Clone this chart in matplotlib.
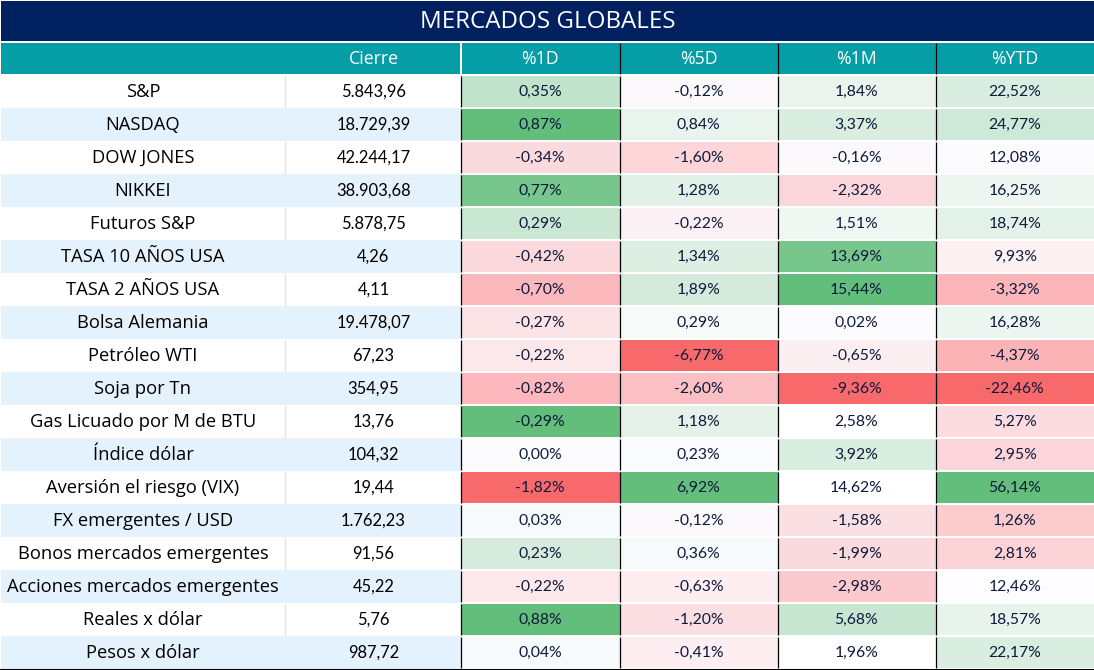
#!/usr/bin/env python3
"""Tabla de mercados globales con celdas coloreadas."""

import matplotlib
matplotlib.use("Agg")
import matplotlib.pyplot as plt
from matplotlib.patches import Rectangle

TITLE = "MERCADOS GLOBALES"
HEADERS = ["Cierre", "%1D", "%5D", "%1M", "%YTD"]

NAMES = [
    "S&P", "NASDAQ", "DOW JONES", "NIKKEI", "Futuros S&P", "TASA 10 AÑOS USA",
    "TASA 2 AÑOS USA", "Bolsa Alemania", "Petróleo WTI", "Soja por Tn",
    "Gas Licuado por M de BTU", "Índice dólar", "Aversión el riesgo (VIX)",
    "FX emergentes / USD", "Bonos mercados emergentes",
    "Acciones mercados emergentes", "Reales x dólar", "Pesos x dólar",
]
CIERRE = [
    "5.843,96", "18.729,39", "42.244,17", "38.903,68", "5.878,75", "4,26",
    "4,11", "19.478,07", "67,23", "354,95", "13,76", "104,32", "19,44",
    "1.762,23", "91,56", "45,22", "5,76", "987,72",
]
PCT_1D = [
    "0,35%", "0,87%", "-0,34%", "0,77%", "0,29%", "-0,42%", "-0,70%", "-0,27%",
    "-0,22%", "-0,82%", "-0,29%", "0,00%", "-1,82%", "0,03%", "0,23%", "-0,22%",
    "0,88%", "0,04%",
]
PCT_5D = [
    "-0,12%", "0,84%", "-1,60%", "1,28%", "-0,22%", "1,34%", "1,89%", "0,29%",
    "-6,77%", "-2,60%", "1,18%", "0,23%", "6,92%", "-0,12%", "0,36%", "-0,63%",
    "-1,20%", "-0,41%",
]
PCT_1M = [
    "1,84%", "3,37%", "-0,16%", "-2,32%", "1,51%", "13,69%", "15,44%", "0,02%",
    "-0,65%", "-9,36%", "2,58%", "3,92%", "14,62%", "-1,58%", "-1,99%", "-2,98%",
    "5,68%", "1,96%",
]
PCT_YTD = [
    "22,52%", "24,77%", "12,08%", "16,25%", "18,74%", "9,93%", "-3,32%", "16,28%",
    "-4,37%", "-22,46%", "5,27%", "2,95%", "56,14%", "1,26%", "2,81%", "12,46%",
    "18,57%", "22,17%",
]

# Formato condicional, una fila por activo
CELL_COLORS = [
    ["#C1E3CB", "#FBF9FC", "#EAF4ED", "#D9EDE0"],
    ["#63BE7B", "#EAF4EE", "#D9EDE0", "#CFE9D8"],
    ["#FBDADE", "#FBD5D8", "#FBF9FC", "#FBFAFD"],
    ["#77C68C", "#E1F1E7", "#FBD6DA", "#EDF6F0"],
    ["#C9E7D3", "#FBF0F3", "#EFF7F2", "#E3F2E8"],
    ["#FBD8DC", "#DDEFE3", "#77C68C", "#FDF0F2"],
    ["#FCB9BD", "#D4EBDC", "#63BE7B", "#FCB6BA"],
    ["#FCE3E6", "#F6FAF9", "#FCFCFF", "#EDF6F0"],
    ["#FCE8EA", "#F8696B", "#FBEFF2", "#FBB3B6"],
    ["#FCB8BC", "#FBC0C4", "#F8696B", "#F8696B"],
    ["#63BE7B", "#E6F2E9", "#FFFFFF", "#FCDCE0"],
    ["#FCFCFF", "#FAFBFD", "#D9EDE0", "#FBD5D9"],
    ["#F8696B", "#63BE7B", "#FFFFFF", "#63BE7B"],
    ["#F6FAFA", "#FBF9FC", "#FBE0E3", "#FBCBCE"],
    ["#D6EBDD", "#F6FAFA", "#FBDADE", "#FBD3D7"],
    ["#FCE8EA", "#FDEEF1", "#FBCACE", "#FDFDFF"],
    ["#63BE7B", "#FCDFE3", "#C7E6D2", "#E7F3EB"],
    ["#F6FAFA", "#FDEEF1", "#FFFFFF", "#DAEDE1"],
]

NAVY = "#002060"
TEAL = "#069EA6"
STRIPE = "#E3F2FD"
INK = "#0E1A3C"
FONT = "Lato"
WIDE_FONT = "Open Sans"

# Geometria en pixeles de la imagen
WIDTH, HEIGHT = 1094, 670
ROW_TOP, ROW_H, ROW_GAP = 76, 33, 2
COL_EDGES = [461, 619.5, 777.5, 935.5, 1094]


def box(ax, x0, y0, x1, y1, color):
    ax.add_patch(Rectangle((x0, y0), x1 - x0, y1 - y0, facecolor=color, edgecolor="none"))


def main():
    fig = plt.figure(figsize=(WIDTH / 100, HEIGHT / 100), dpi=100, facecolor="white")
    ax = fig.add_axes([0, 0, 1, 1])
    ax.set_xlim(0, WIDTH)
    ax.set_ylim(HEIGHT, 0)
    ax.axis("off")

    # Titulo y encabezados
    box(ax, 1, 1, WIDTH, 41, NAVY)
    ax.text(548, 22.5, TITLE, color="white", fontsize=17.4, family=WIDE_FONT,
            ha="center", va="center")
    box(ax, 1, 43, 460, 74, TEAL)
    box(ax, 462, 43, WIDTH, 74, TEAL)
    header_x = [373.5] + [(COL_EDGES[i] + COL_EDGES[i + 1]) / 2 for i in range(4)]
    for x, label in zip(header_x, HEADERS):
        ax.text(x, 59.5, label, color="white", fontsize=12.8, family=WIDE_FONT,
                ha="center", va="center")

    columns = [PCT_1D, PCT_5D, PCT_1M, PCT_YTD]
    for r, name in enumerate(NAMES):
        top = ROW_TOP + r * ROW_H
        mid = top + 16
        if r % 2 == 1:
            box(ax, 1, top - 1, COL_EDGES[0], top + ROW_H - 1, STRIPE)
        else:
            ax.plot([284.5, 284.5], [top, top + ROW_H - 2], color="#E2E2E2", lw=1)
        ax.text(143, mid, name, color="black", fontsize=13.2, family=WIDE_FONT,
                ha="center", va="center")
        ax.text(373.5, mid, CIERRE[r], color="black", fontsize=11.9, family=FONT,
                ha="center", va="center")
        for c, values in enumerate(columns):
            box(ax, COL_EDGES[c], top, COL_EDGES[c + 1], top + ROW_H - ROW_GAP,
                CELL_COLORS[r][c])
            ax.text((COL_EDGES[c] + COL_EDGES[c + 1]) / 2, mid, values[r], color=INK,
                    fontsize=11.3, family=FONT, ha="center", va="center")
        # Separadores negros, cortados entre filas
        for x in COL_EDGES[:4]:
            ax.plot([x, x], [top, top + ROW_H - ROW_GAP], color="black", lw=0.9,
                    solid_capstyle="butt")

    for x in COL_EDGES[1:4]:
        ax.plot([x, x], [43, 74], color="black", lw=0.9, solid_capstyle="butt")
    # Linea inferior
    bottom = ROW_TOP + len(NAMES) * ROW_H
    ax.plot([0, WIDTH], [bottom, bottom], color="black", lw=2.2)

    fig.savefig("out.png", dpi=100, facecolor="white")
    plt.close(fig)


if __name__ == "__main__":
    main()
